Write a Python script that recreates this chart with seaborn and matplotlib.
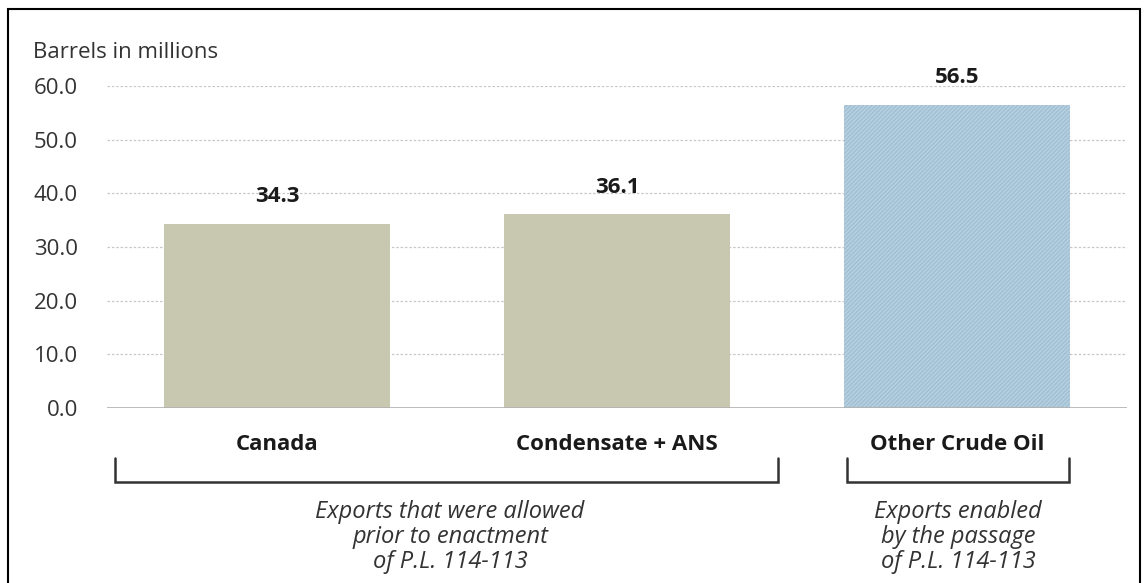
import matplotlib
matplotlib.use("Agg")
import matplotlib.pyplot as plt
import seaborn as sns
import pandas as pd
from matplotlib.patches import Rectangle
from matplotlib.lines import Line2D

categories = ["Canada", "Condensate + ANS", "Other Crude Oil"]
values = [34.3, 36.1, 56.5]
groups = ["allowed", "allowed", "enabled"]
yticks = [0, 10, 20, 30, 40, 50, 60]
ylabel = "Barrels in millions"
group_notes = ["Exports that were allowed\nprior to enactment\nof P.L. 114-113",
               "Exports enabled\nby the passage\nof P.L. 114-113"]

sns.set_theme(style="white")
plt.rcParams['font.family'] = ['Open Sans', 'DejaVu Sans']
plt.rcParams['hatch.linewidth'] = 0.8

W, H = 1148, 583
FS = 16
fig = plt.figure(figsize=(W / 100, H / 100), dpi=100)
ax = fig.add_axes([107 / W, 1 - 408 / H, (1127 - 107) / W, (408 - 86) / H])

df = pd.DataFrame({"cat": categories, "val": values, "grp": groups})
palette = {"allowed": "#c8c8b0", "enabled": "#a2c1d5"}
sns.barplot(data=df, x="cat", y="val", hue="grp", palette=palette, dodge=False,
            width=0.667, legend=False, ax=ax, saturation=1, zorder=3)

for p in ax.patches:
    p.set_linewidth(0)
    if abs(p.get_height() - values[2]) < 1e-6:
        p.set_hatch("////////")
        p.set_edgecolor("#bcd3e2")

ax.set_xlim(-0.5, 2.5)
ax.set_ylim(0, 60)
ax.set_yticks(yticks)
ax.set_yticklabels([f"{v:.1f}" for v in yticks], fontsize=FS, color="#333333")
ax.tick_params(axis="y", length=0, pad=21)
ax.tick_params(axis="x", length=0, pad=19)
ax.set_xticks(range(len(categories)))
ax.set_xticklabels(categories, fontsize=FS, fontweight="bold", color="#1a1a1a")
ax.set_xlabel("")
ax.set_ylabel("")
for s in ax.spines.values():
    s.set_visible(False)

for v in yticks[1:]:
    ax.axhline(v, color="#c8c8c8", lw=0.9, ls=(0, (2, 1.5)), zorder=1)
ax.axhline(0, color="#b0b0b0", lw=1.2, zorder=4)

for i, v in enumerate(values):
    ax.annotate(f"{v:.1f}", (i, v), xytext=(0, 12), textcoords="offset points",
                ha="center", va="bottom", fontsize=FS, fontweight="bold", color="#1a1a1a")

fig.text(33 / W, 1 - 53 / H, ylabel, fontsize=FS, color="#333333", va="center", ha="left")

def bracket(x0, x1, y0, y1):
    xs = [x0 / W, x0 / W, x1 / W, x1 / W]
    ys = [1 - y0 / H, 1 - y1 / H, 1 - y1 / H, 1 - y0 / H]
    fig.add_artist(Line2D(xs, ys, color="#333333", lw=1.8, transform=fig.transFigure,
                          solid_joinstyle="miter"))

bracket(115, 778, 458, 482)
bracket(847, 1069, 458, 482)

FI = 17
fig.text(450 / W, 1 - 537 / H, group_notes[0], fontsize=FI, style="italic",
         color="#333333", ha="center", va="center", linespacing=1.05)
fig.text(958 / W, 1 - 537 / H, group_notes[1], fontsize=FI, style="italic",
         color="#333333", ha="center", va="center", linespacing=1.05)

fig.add_artist(Rectangle((8 / W, -0.05), (1140 - 8) / W, 1.05 - 9 / H,
                         transform=fig.transFigure, fill=False, edgecolor="black", lw=1.5))

fig.savefig("out.png", dpi=100)
